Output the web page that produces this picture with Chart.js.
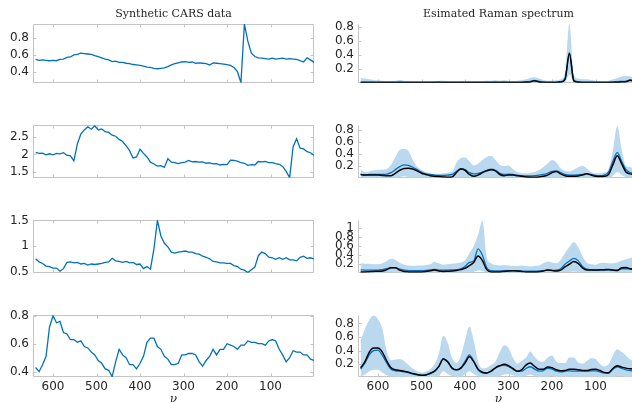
<!DOCTYPE html>
<html>
<head>
<meta charset="utf-8">
<script src="https://cdn.jsdelivr.net/npm/chart.js@4.4.0/dist/chart.umd.min.js"></script>
<style>
  html, body { margin: 0; padding: 0; background: #fff; width: 632px; height: 402px; overflow: hidden; position: relative; }
  .panel { position: absolute; }
  .panel canvas { display: block; }
</style>
</head>
<body>
<script>
// wavenumber grids (left: raw CARS, right: Raman estimates)
const nuL = [640,632,624,616,608,600,592,584,576,568,560,552,544,536,528,520,512,504,496,488,480,472,464,456,448,440,432,424,416,408,400,392,384,376,368,360,352,344,336,328,320,312,304,296,288,280,272,264,256,248,240,232,224,216,208,200,192,184,176,168,160,152,144,136,128,120,112,104,96,88,80,72,64,56,48,40,32,24,16,8,0];
const nuR = [640,630,620,610,600,590,580,570,560,550,540,530,520,510,500,490,480,470,460,450,440,430,420,410,400,390,380,370,360,350,340,330,320,310,300,290,280,270,260,250,240,230,220,210,200,190,180,170,160,150,140,130,120,110,100,90,80,70,60,50,40,30,20,10,0];
const xTicks = [600, 500, 400, 300, 200, 100];

// Synthetic CARS data
const cars1 = [0.545,0.535,0.54,0.535,0.53,0.535,0.53,0.545,0.55,0.57,
  0.575,0.60,0.605,0.62,0.615,0.61,0.605,0.59,0.58,0.565,
  0.55,0.54,0.52,0.525,0.51,0.51,0.50,0.495,0.485,0.48,
  0.475,0.465,0.455,0.45,0.44,0.435,0.44,0.445,0.46,0.48,
  0.495,0.505,0.515,0.52,0.51,0.515,0.50,0.505,0.50,0.495,
  0.48,0.505,0.50,0.495,0.49,0.485,0.475,0.45,0.40,0.27,
  0.965,0.76,0.62,0.58,0.565,0.56,0.555,0.55,0.56,0.55,
  0.555,0.56,0.55,0.555,0.55,0.545,0.53,0.515,0.565,0.54,
  0.51];
const cars2 = [2.06,2.03,2.04,1.99,2.02,1.99,2.03,2.02,2.05,1.98,
  1.96,1.82,2.30,2.58,2.70,2.79,2.72,2.82,2.70,2.73,
  2.65,2.63,2.55,2.52,2.43,2.37,2.25,2.11,1.90,1.93,
  2.15,2.03,1.93,1.78,1.73,1.67,1.68,1.63,1.88,1.78,
  1.77,1.74,1.77,1.78,1.83,1.79,1.80,1.78,1.79,1.75,
  1.76,1.73,1.74,1.70,1.72,1.71,1.84,1.83,1.81,1.77,
  1.75,1.69,1.71,1.70,1.80,1.79,1.80,1.77,1.77,1.74,
  1.72,1.66,1.52,1.34,2.22,2.45,2.18,2.16,2.08,2.05,
  1.98];
const cars3 = [0.76,0.70,0.67,0.62,0.61,0.58,0.58,0.52,0.57,0.69,
  0.70,0.68,0.69,0.66,0.67,0.64,0.66,0.65,0.66,0.67,
  0.69,0.70,0.77,0.72,0.71,0.69,0.71,0.68,0.69,0.65,
  0.66,0.57,0.61,0.56,0.95,1.50,1.20,1.06,0.99,0.89,
  0.87,0.89,0.90,0.91,0.89,0.89,0.86,0.85,0.81,0.79,
  0.76,0.71,0.70,0.68,0.68,0.67,0.67,0.63,0.61,0.56,
  0.54,0.495,0.55,0.60,0.82,0.89,0.86,0.79,0.78,0.75,
  0.78,0.75,0.78,0.74,0.74,0.72,0.79,0.81,0.77,0.78,
  0.76];
const cars4 = [0.43,0.40,0.45,0.51,0.72,0.80,0.75,0.76,0.68,0.67,
  0.63,0.63,0.61,0.62,0.58,0.57,0.54,0.52,0.48,0.46,
  0.42,0.41,0.365,0.47,0.56,0.52,0.50,0.45,0.45,0.42,
  0.46,0.51,0.61,0.64,0.64,0.58,0.56,0.51,0.49,0.45,
  0.45,0.46,0.52,0.52,0.53,0.53,0.52,0.47,0.44,0.48,
  0.51,0.56,0.52,0.56,0.56,0.60,0.59,0.58,0.56,0.59,
  0.59,0.62,0.61,0.61,0.60,0.60,0.59,0.62,0.63,0.62,
  0.56,0.52,0.47,0.50,0.55,0.54,0.54,0.52,0.52,0.49,
  0.48];

// Estimated Raman spectrum: band (hi/lo), estimate (blue), true (black)
const ramanHi1 = [0.07,0.06,0.05,0.04,0.035, 0.03,0.025,0.025,0.03,0.04, 0.03,0.025,0.02,0.02,0.02, 0.02,0.02,0.025,0.03,0.03,
  0.025,0.02,0.02,0.025,0.03, 0.025,0.02,0.02,0.025,0.03, 0.03,0.035,0.03,0.035,0.03, 0.025,0.03,0.035,0.05,0.07,
  0.08,0.06,0.04,0.03,0.03, 0.035,0.05,0.15,0.84,0.12, 0.06,0.05,0.05,0.04,0.03, 0.025,0.02,0.03,0.05,0.07, 0.09,0.10,0.09,0.07,0.06];
const ramanLo1 = [0,0,0,0,0, 0,0,0,0,0, 0,0,0,0,0, 0,0,0,0,0,
  0,0,0,0,0, 0,0,0,0,0, 0,0,0,0,0, 0,0,0,0,0,
  0.005,0,0,0,0, 0,0,0.01,0.12,0.01, 0,0,0,0,0, 0,0,0,0,0, 0,0.005,0.01,0,0];
const ramanMean1 = [0.01,0.01,0.01,0.01,0.01, 0.01,0.01,0.01,0.01,0.012, 0.01,0.01,0.01,0.01,0.01, 0.01,0.01,0.01,0.012,0.01,
  0.01,0.01,0.01,0.01,0.01, 0.01,0.01,0.01,0.01,0.01, 0.01,0.012,0.01,0.012,0.01, 0.01,0.01,0.01,0.015,0.02,
  0.035,0.02,0.012,0.01,0.01, 0.01,0.015,0.06,0.43,0.04, 0.015,0.01,0.01,0.01,0.01, 0.01,0.01,0.01,0.012,0.015, 0.02,0.025,0.04,0.02,0.015];
const ramanTrue1 = [0.005,0.005,0.005,0.005,0.005, 0.005,0.005,0.005,0.005,0.006, 0.005,0.005,0.005,0.005,0.005, 0.005,0.005,0.005,0.006,0.005,
  0.005,0.005,0.005,0.005,0.005, 0.005,0.005,0.005,0.005,0.005, 0.005,0.006,0.005,0.006,0.005, 0.005,0.005,0.005,0.008,0.012,
  0.03,0.012,0.006,0.005,0.005, 0.005,0.01,0.05,0.42,0.03, 0.008,0.005,0.005,0.005,0.005, 0.005,0.005,0.005,0.006,0.008, 0.01,0.015,0.035,0.02,0.01];

const ramanHi2 = [0.15,0.10,0.11,0.13,0.14, 0.14,0.15,0.22,0.35,0.47, 0.48,0.45,0.30,0.19,0.13, 0.10,0.08,0.07,0.07,0.08,
  0.09,0.10,0.25,0.33,0.34, 0.28,0.21,0.24,0.30,0.35, 0.37,0.30,0.22,0.20,0.21, 0.15,0.10,0.08,0.08,0.09,
  0.10,0.13,0.18,0.24,0.30, 0.26,0.16,0.12,0.11,0.14, 0.18,0.20,0.16,0.10,0.08, 0.08,0.09,0.15,0.45,0.86, 0.48,0.20,0.18,0.15,0.14];
const ramanLo2 = [0.008,0.008,0.008,0.008,0.008, 0.008,0.008,0.008,0.01,0.02, 0.03,0.02,0.01,0.008,0.008, 0.008,0.008,0.008,0.008,0.008,
  0.008,0.008,0.01,0.02,0.015, 0.008,0.008,0.008,0.01,0.015, 0.02,0.015,0.008,0.008,0.008, 0.008,0.008,0.008,0.008,0.008,
  0.008,0.008,0.008,0.01,0.015, 0.015,0.01,0.008,0.008,0.008, 0.008,0.008,0.01,0.008,0.008, 0.008,0.008,0.01,0.04,0.10, 0.05,0.015,0.01,0.008,0.008];
const ramanMean2 = [0.06,0.055,0.06,0.06,0.06, 0.06,0.065,0.09,0.14,0.19, 0.22,0.21,0.18,0.14,0.10, 0.07,0.06,0.05,0.045,0.045,
  0.05,0.06,0.11,0.155,0.14, 0.09,0.07,0.08,0.10,0.13, 0.15,0.13,0.08,0.06,0.065, 0.06,0.05,0.04,0.035,0.035,
  0.04,0.05,0.06,0.08,0.11, 0.12,0.09,0.06,0.05,0.05, 0.055,0.06,0.075,0.06,0.045, 0.04,0.05,0.10,0.28,0.42, 0.28,0.14,0.09,0.07,0.06];
const ramanTrue2 = [0.06,0.05,0.05,0.05,0.05, 0.045,0.04,0.04,0.08,0.13, 0.16,0.165,0.15,0.12,0.08, 0.06,0.04,0.03,0.025,0.02,
  0.015,0.02,0.09,0.15,0.13, 0.06,0.03,0.05,0.09,0.12, 0.14,0.12,0.06,0.04,0.05, 0.05,0.04,0.03,0.02,0.015,
  0.015,0.02,0.03,0.05,0.09, 0.11,0.07,0.04,0.03,0.03, 0.035,0.05,0.07,0.05,0.03, 0.025,0.03,0.06,0.22,0.37, 0.24,0.10,0.07,0.06,0.05];

const ramanHi3 = [0.22,0.21,0.21,0.20,0.20, 0.22,0.27,0.32,0.30,0.23, 0.19,0.17,0.16,0.17,0.17, 0.18,0.20,0.25,0.22,0.19,
  0.20,0.21,0.22,0.24,0.29, 0.45,0.60,0.85,1.17,0.35, 0.22,0.18,0.17,0.18,0.17, 0.16,0.16,0.17,0.16,0.15,
  0.16,0.17,0.22,0.26,0.24, 0.22,0.30,0.45,0.58,0.69, 0.58,0.38,0.23,0.20,0.19, 0.22,0.23,0.22,0.22,0.24, 0.28,0.31,0.34,0.36,0.35];
const ramanLo3 = [0.012,0.012,0.012,0.012,0.012, 0.012,0.015,0.02,0.02,0.012, 0.012,0.012,0.012,0.012,0.012, 0.012,0.012,0.015,0.012,0.012,
  0.012,0.012,0.012,0.012,0.015, 0.02,0.03,0.06,0.05,0.015, 0.012,0.012,0.012,0.012,0.012, 0.012,0.012,0.012,0.012,0.012,
  0.012,0.012,0.012,0.015,0.012, 0.012,0.015,0.025,0.03,0.04, 0.03,0.015,0.012,0.012,0.012, 0.012,0.012,0.012,0.012,0.012, 0.015,0.015,0.012,0.012,0.012];
const ramanMean3 = [0.075,0.07,0.07,0.07,0.07, 0.08,0.10,0.125,0.12,0.09, 0.07,0.06,0.06,0.06,0.06, 0.065,0.075,0.085,0.07,0.07,
  0.07,0.075,0.08,0.10,0.15, 0.24,0.27,0.54,0.40,0.12, 0.06,0.05,0.05,0.055,0.06, 0.06,0.055,0.05,0.045,0.045,
  0.045,0.05,0.06,0.07,0.065, 0.07,0.10,0.20,0.27,0.33, 0.28,0.15,0.09,0.075,0.07, 0.07,0.07,0.075,0.07,0.07, 0.10,0.10,0.09,0.085,0.08];
const ramanTrue3 = [0.03,0.03,0.035,0.04,0.045, 0.05,0.08,0.12,0.12,0.07, 0.04,0.03,0.025,0.025,0.03, 0.04,0.055,0.07,0.05,0.04,
  0.045,0.05,0.06,0.08,0.11, 0.17,0.24,0.38,0.28,0.08, 0.03,0.025,0.03,0.04,0.05, 0.055,0.05,0.04,0.03,0.03,
  0.03,0.035,0.05,0.07,0.06, 0.05,0.07,0.14,0.20,0.26, 0.22,0.12,0.07,0.07,0.07, 0.075,0.08,0.085,0.07,0.06, 0.12,0.13,0.10,0.09,0.09];

const ramanHi4 = [0.55,0.72,0.85,0.92,0.86, 0.72,0.40,0.26,0.27,0.28, 0.25,0.19,0.14,0.10,0.08, 0.10,0.13,0.20,0.36,0.62,
  0.52,0.30,0.22,0.32,0.55, 0.75,0.55,0.25,0.14,0.15, 0.19,0.24,0.38,0.48,0.44, 0.30,0.21,0.25,0.30,0.39,
  0.31,0.25,0.24,0.30,0.33, 0.24,0.22,0.22,0.30,0.30, 0.23,0.21,0.25,0.29,0.28, 0.21,0.17,0.20,0.33,0.42, 0.38,0.33,0.27,0.24,0.22];
const ramanLo4 = [0.02,0.05,0.10,0.12,0.12, 0.08,0.04,0.025,0.02,0.02, 0.02,0.02,0.02,0.02,0.02, 0.02,0.02,0.02,0.03,0.10,
  0.06,0.03,0.02,0.02,0.05, 0.10,0.06,0.03,0.02,0.02, 0.02,0.02,0.03,0.05,0.06, 0.04,0.02,0.02,0.03,0.05,
  0.03,0.02,0.02,0.02,0.03, 0.02,0.02,0.02,0.02,0.02, 0.02,0.02,0.02,0.02,0.02, 0.02,0.02,0.02,0.02,0.03, 0.03,0.02,0.02,0.02,0.02];
const ramanMean4 = [0.13,0.22,0.34,0.40,0.41, 0.33,0.22,0.13,0.105,0.10, 0.09,0.08,0.06,0.045,0.04, 0.045,0.065,0.10,0.17,0.285,
  0.24,0.14,0.12,0.15,0.24, 0.34,0.25,0.12,0.075,0.07, 0.10,0.15,0.18,0.185,0.17, 0.13,0.10,0.10,0.14,0.165,
  0.13,0.10,0.11,0.14,0.13, 0.10,0.09,0.10,0.105,0.10, 0.10,0.10,0.10,0.105,0.105, 0.09,0.075,0.08,0.13,0.165, 0.14,0.12,0.11,0.10,0.10];
const ramanTrue4 = [0.15,0.24,0.38,0.44,0.44, 0.38,0.25,0.15,0.12,0.11, 0.10,0.085,0.065,0.05,0.04, 0.045,0.07,0.10,0.17,0.28,
  0.24,0.15,0.12,0.14,0.22, 0.31,0.24,0.13,0.085,0.075, 0.10,0.15,0.18,0.20,0.18, 0.14,0.10,0.12,0.19,0.22,
  0.17,0.13,0.13,0.16,0.15, 0.12,0.105,0.11,0.13,0.13, 0.12,0.11,0.11,0.125,0.13, 0.11,0.08,0.075,0.14,0.18, 0.16,0.145,0.135,0.13,0.125];

// axis limits / ticks per row
const yLimL = [[0.268, 0.966], [1.335, 2.835], [0.49, 1.505], [0.362, 0.804]];
const yLimR = [[0, 0.84], [0.005, 0.875], [0.01, 1.175], [0.015, 0.92]];
const yTicksL = [[0.4, 0.6, 0.8], [1.5, 2, 2.5], [0.5, 1, 1.5], [0.4, 0.6, 0.8]];
const yTicksR = [[0.2, 0.4, 0.6, 0.8], [0.2, 0.4, 0.6, 0.8], [0.2, 0.4, 0.6, 0.8, 1], [0.2, 0.4, 0.6, 0.8]];

const carsData = [cars1, cars2, cars3, cars4];
const ramanData = [
  [ramanHi1, ramanLo1, ramanMean1, ramanTrue1],
  [ramanHi2, ramanLo2, ramanMean2, ramanTrue2],
  [ramanHi3, ramanLo3, ramanMean3, ramanTrue3],
  [ramanHi4, ramanLo4, ramanMean4, ramanTrue4]
];

const axisGray = '#c4c4c4';
const textGray = '#262626';
const blue = '#0072bd';
const bandBlue = '#bad9ee';

Chart.defaults.font.family = "'DejaVu Sans', sans-serif";
Chart.defaults.font.size = 12;
Chart.defaults.color = textGray;

// plot rectangles (top/bottom of each row)
const rowTop = [24, 118, 213, 308];
const rowBot = [91, 186, 281, 377];

// axes frame + inward tick marks, matlab style
const framePlugin = {
  id: 'frame',
  beforeDatasetsDraw(chart, args, opts) {
    const { ctx, chartArea: a, scales: { x, y } } = chart;
    const len = 3;
    const L = Math.round(a.left) + 0.5, R = Math.round(a.right) - 0.5;
    const T = Math.round(a.top) + 0.5, B = Math.round(a.bottom) - 0.5;
    ctx.save();
    ctx.strokeStyle = axisGray;
    ctx.lineWidth = 1;
    ctx.beginPath();
    ctx.moveTo(L, T); ctx.lineTo(L, B); ctx.lineTo(R, B);
    if (opts.box) { ctx.lineTo(R, T); ctx.lineTo(L, T); }
    opts.yTicks.forEach(v => {
      const py = Math.round(y.getPixelForValue(v)) + 0.5;
      ctx.moveTo(L, py); ctx.lineTo(L + len, py);
      if (opts.box) { ctx.moveTo(R, py); ctx.lineTo(R - len, py); }
    });
    xTicks.forEach(v => {
      const px = Math.round(x.getPixelForValue(v)) + 0.5;
      ctx.moveTo(px, B); ctx.lineTo(px, B - len);
      if (opts.box) { ctx.moveTo(px, T); ctx.lineTo(px, T + len); }
    });
    ctx.stroke();
    ctx.restore();
  }
};

const pts = (xs, ys) => xs.map((v, i) => ({ x: v, y: ys[i] }));

function buildOptions(p) {
  return {
    responsive: false,
    animation: false,
    devicePixelRatio: 1,
    events: [],
    layout: { padding: { top: p.title ? 0 : 4, right: p.padRight, bottom: p.last ? 0 : 3, left: 0 } },
    elements: { point: { radius: 0 } },
    plugins: {
      legend: { display: false },
      tooltip: { enabled: false },
      title: {
        display: !!p.title,
        text: p.title || '',
        fullSize: false,
        color: textGray,
        font: { family: "'DejaVu Serif', serif", size: 11, weight: 'normal', lineHeight: 1.2 },
        padding: { top: 8, bottom: 2.8 }
      },
      frame: { box: p.box, yTicks: p.yTicks }
    },
    scales: {
      x: {
        type: 'linear',
        reverse: true,
        min: 0,
        max: 646,
        display: p.last,
        grid: { display: false, drawTicks: false },
        border: { display: false },
        ticks: { padding: 4, font: { size: 12, lineHeight: 1 } },
        afterBuildTicks: s => { s.ticks = xTicks.map(v => ({ value: v })); },
        afterFit: s => { s.height = p.last ? 30 : 0; },
        title: {
          display: true,
          text: 'ν',
          color: textGray,
          font: { family: "'DejaVu Serif', serif", size: 12, style: 'italic', lineHeight: 1.2 },
          padding: 0
        }
      },
      y: {
        type: 'linear',
        min: p.yLim[0],
        max: p.yLim[1],
        grid: { display: false, drawTicks: false },
        border: { display: false },
        ticks: { padding: 4, autoSkip: false, callback: v => String(v) },
        afterBuildTicks: s => { s.ticks = p.yTicks.map(v => ({ value: v })); },
        afterFit: s => { s.width = p.yAxisW; }
      }
    }
  };
}

function addPanel(left, top, width, height, config) {
  const div = document.createElement('div');
  div.className = 'panel';
  div.style.left = left + 'px';
  div.style.top = top + 'px';
  const canvas = document.createElement('canvas');
  canvas.width = width;
  canvas.height = height;
  div.appendChild(canvas);
  document.body.appendChild(div);
  return new Chart(canvas, config);
}

for (let r = 0; r < 4; r++) {
  const last = r === 3;
  const divTop = r === 0 ? 0 : rowTop[r] - 4;
  const h = (rowBot[r] - divTop) + (last ? 30 : 3);

  // left: synthetic CARS data
  addPanel(0, divTop, 320, h, {
    type: 'line',
    data: {
      datasets: [{
        data: pts(nuL, carsData[r]),
        borderColor: blue,
        borderWidth: 1.3,
        tension: 0
      }]
    },
    options: buildOptions({
      title: r === 0 ? 'Synthetic CARS data' : null,
      last: last, box: true, padRight: 6, yAxisW: 33,
      yLim: yLimL[r], yTicks: yTicksL[r]
    }),
    plugins: [framePlugin]
  });

  // right: estimated Raman spectrum (canvas runs a little past the window edge)
  const [hi, lo, mean, truth] = ramanData[r];
  addPanel(316, divTop, 330, h, {
    type: 'line',
    data: {
      datasets: [
        { data: pts(nuR, truth), borderColor: '#000', borderWidth: 1.5, cubicInterpolationMode: 'monotone', order: 0 },
        { data: pts(nuR, mean), borderColor: blue, borderWidth: 1.3, cubicInterpolationMode: 'monotone', order: 1 },
        { data: pts(nuR, hi), borderWidth: 0, borderColor: 'rgba(0,0,0,0)', backgroundColor: bandBlue, fill: '+1', cubicInterpolationMode: 'monotone', order: 2 },
        { data: pts(nuR, lo), borderWidth: 0, borderColor: 'rgba(0,0,0,0)', fill: false, cubicInterpolationMode: 'monotone', order: 3 }
      ]
    },
    options: buildOptions({
      title: r === 0 ? 'Esimated Raman spectrum' : null,
      last: last, box: false, padRight: 7, yAxisW: 42,
      yLim: yLimR[r], yTicks: yTicksR[r]
    }),
    plugins: [framePlugin]
  });
}
</script>
</body>
</html>
